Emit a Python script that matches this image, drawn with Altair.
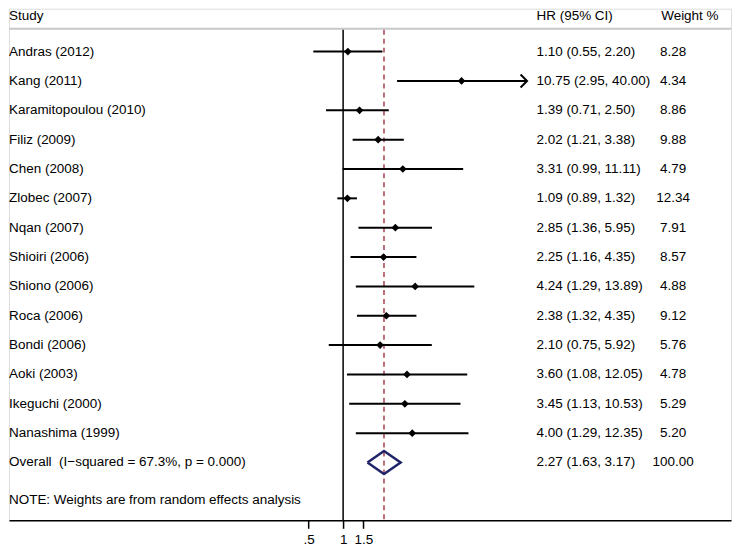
import altair as alt
import pandas as pd
import numpy as np

studies = ["Andras (2012)", "Kang (2011)", "Karamitopoulou (2010)", "Filiz (2009)",
           "Chen (2008)", "Zlobec (2007)", "Nqan (2007)", "Shioiri (2006)",
           "Shiono (2006)", "Roca (2006)", "Bondi (2006)", "Aoki (2003)",
           "Ikeguchi (2000)", "Nanashima (1999)"]
hr = [1.10, 10.75, 1.39, 2.02, 3.31, 1.09, 2.85, 2.25, 4.24, 2.38, 2.10, 3.60, 3.45, 4.00]
lo = [0.55, 2.95, 0.71, 1.21, 0.99, 0.89, 1.36, 1.16, 1.29, 1.32, 0.75, 1.08, 1.13, 1.29]
hi = [2.20, 40.00, 2.50, 3.38, 11.11, 1.32, 5.95, 4.35, 13.89, 4.35, 5.92, 12.05, 10.53, 12.35]
weights = [8.28, 4.34, 8.86, 9.88, 4.79, 12.34, 7.91, 8.57, 4.88, 9.12, 5.76, 4.78, 5.29, 5.20]

overall_label = "Overall\u00a0 (I\u2212squared = 67.3%, p = 0.000)"
overall_hr, overall_lo, overall_hi, overall_w = 2.27, 1.63, 3.17, 100.00
note_text = "NOTE: Weights are from random effects analysis"
tick_values = [0.5, 1, 1.5]
arrow_cap = 40.0  # CIs reaching this bound are drawn with an arrow

FONT = "Liberation Sans Narrow, Arial Narrow, Liberation Sans, Arial, sans-serif"
FS = 13.5
W, H = 724, 513

n = len(studies)
df = pd.DataFrame({"study": studies, "hr": hr, "lo": lo, "hi": hi, "w": weights,
                   "row": np.arange(n)})
df["arrow"] = df["hi"] >= arrow_cap

txt = pd.DataFrame({
    "label": studies + [overall_label],
    "row": list(range(n)) + [n],
    "ci": [f"{a:.2f} ({b:.2f}, {c:.2f})" for a, b, c in zip(hr, lo, hi)]
          + [f"{overall_hr:.2f} ({overall_lo:.2f}, {overall_hi:.2f})"],
    "wt": [f"{v:.2f}" for v in weights] + [f"{overall_w:.2f}"],
})

half = 0.39
dia = pd.DataFrame({
    "x": [overall_lo, overall_hr, overall_hi, overall_hr, overall_lo],
    "row": [n, n - half, n, n + half, n],
    "order": list(range(5)),
})

note_df = pd.DataFrame({"label": [note_text], "row": [n + 1.27]})

xscale = alt.Scale(type="log", domain=[0.00123, 2390])
yscale = alt.Scale(domain=[-1.46, 15.97], reverse=True)

xaxis = alt.Axis(values=tick_values, title=None, grid=False,
                 labelExpr="datum.value == 0.5 ? '.5' : toString(datum.value)",
                 domainColor="black", domainWidth=1.5, tickColor="black",
                 tickWidth=1.5, tickSize=8, labelFontSize=13.5, labelFont=FONT,
                 labelColor="black", labelPadding=4, labelFlush=False)

X = lambda f: alt.X(f, scale=xscale, axis=xaxis)
Y = lambda f: alt.Y(f, scale=yscale, axis=None)

base = alt.Chart(df)

ci = base.mark_rule(color="black", strokeWidth=2).encode(
    x=X("lo:Q"), x2="hi:Q", y=Y("row:Q"))
pts = base.mark_point(shape="diamond", filled=True, color="black", size=60, opacity=1).encode(
    x=X("hr:Q"), y=Y("row:Q"))
arrows = base.transform_filter("datum.arrow").mark_point(
    shape="M -1 -1 L 0 0 L -1 1", filled=False, color="black", strokeWidth=2,
    size=170, opacity=1).encode(x=X("hi:Q"), y=Y("row:Q"))

diamond = alt.Chart(dia).mark_line(color="#1f2468", strokeWidth=2.5).encode(
    x=X("x:Q"), y=Y("row:Q"), order="order:Q")

vline = alt.Chart(pd.DataFrame({"v": [1.0]})).mark_rule(color="black", strokeWidth=1.5).encode(
    x=X("v:Q"), y=alt.value(21), y2=alt.value(H))
dline = alt.Chart(pd.DataFrame({"v": [overall_hr]})).mark_rule(
    color="#a8404c", strokeWidth=1.5, strokeDash=[5, 4]).encode(
    x=X("v:Q"), y=alt.value(21), y2=alt.value(H))

hline = alt.Chart(pd.DataFrame({"v": [0]})).mark_rule(color="#c8c8c8", strokeWidth=2).encode(
    x=alt.value(0), x2=alt.value(W), y=alt.value(20))

tbase = alt.Chart(txt)
tstudy = tbase.mark_text(align="left", baseline="middle", font=FONT, fontSize=FS, color="black").encode(
    x=alt.value(0), y=Y("row:Q"), text="label:N")
tci = tbase.mark_text(align="left", baseline="middle", font=FONT, fontSize=FS, color="black").encode(
    x=alt.value(529), y=Y("row:Q"), text="ci:N")
twt = tbase.mark_text(align="center", baseline="middle", font=FONT, fontSize=FS, color="black").encode(
    x=alt.value(666), y=Y("row:Q"), text="wt:N")
tnote = alt.Chart(note_df).mark_text(align="left", baseline="middle", font=FONT, fontSize=FS, color="black").encode(
    x=alt.value(0), y=Y("row:Q"), text="label:N")

headers = pd.DataFrame({"h": ["Study", "HR (95% CI)", "Weight %"]})
h1 = alt.Chart(headers).transform_filter("datum.h == 'Study'").mark_text(
    align="left", baseline="top", font=FONT, fontSize=FS, color="black").encode(
    x=alt.value(0), y=alt.value(0), text="h:N")
h2 = alt.Chart(headers).transform_filter("datum.h == 'HR (95% CI)'").mark_text(
    align="left", baseline="top", font=FONT, fontSize=FS, color="black").encode(
    x=alt.value(529), y=alt.value(0), text="h:N")
h3 = alt.Chart(headers).transform_filter("datum.h == 'Weight %'").mark_text(
    align="left", baseline="top", font=FONT, fontSize=FS, color="black").encode(
    x=alt.value(654), y=alt.value(0), text="h:N")

chart = alt.layer(hline, vline, dline, ci, pts, arrows, diamond,
                  tstudy, tci, twt, tnote, h1, h2, h3).properties(
    width=W, height=H, padding=0
).configure_view(stroke=None).configure(background="white")

chart.save("out.html", embed_options={"renderer": "svg", "actions": False})
